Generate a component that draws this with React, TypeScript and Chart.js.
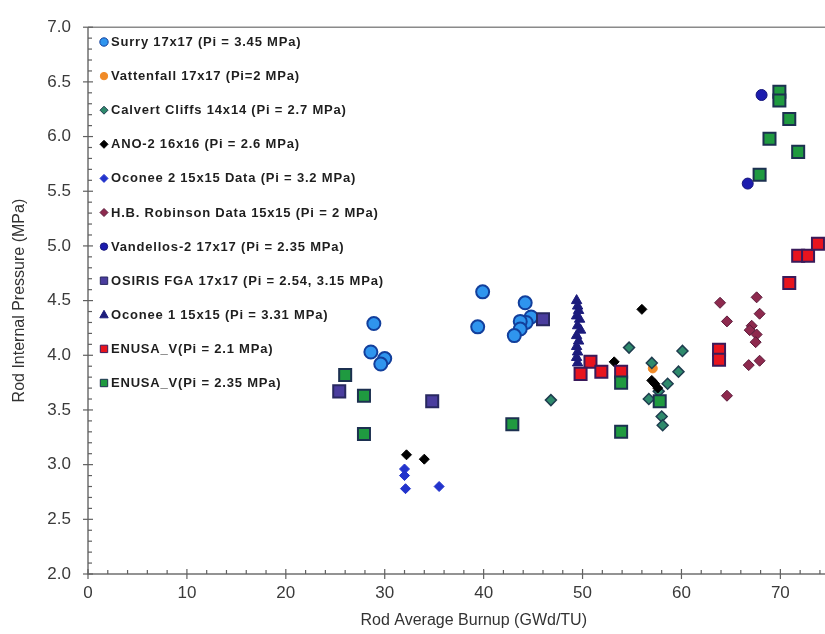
import React, { useEffect, useRef } from "react";
import { Chart, registerables } from "chart.js";

Chart.register(...registerables);

// ---------- axis ranges / ticks ----------
const X_MIN = 0;
const X_MAX = 78;
const Y_MIN = 2;
const Y_MAX = 7;
const X_STEP = 10;
const Y_STEP = 0.5;
const X_TITLE = "Rod Average Burnup (GWd/TU)";
const Y_TITLE = "Rod Internal Pressure (MPa)";

// ---------- series (x = burnup GWd/TU, y = pressure MPa) ----------
const surry: [number, number][] = [
  [28.9, 4.29], [28.6, 4.03], [30.0, 3.97], [29.6, 3.92],
  [39.9, 4.58], [39.4, 4.26],
  [44.2, 4.48], [44.8, 4.35], [44.3, 4.30], [43.7, 4.31], [43.7, 4.24], [43.1, 4.18],
];
const vattenfall: [number, number][] = [[57.1, 3.88]];
const calvert: [number, number][] = [
  [46.8, 3.59], [54.7, 4.07], [60.1, 4.04], [57.0, 3.93], [59.7, 3.85],
  [58.6, 3.74], [56.7, 3.60], [57.7, 3.67], [58.0, 3.44], [58.1, 3.36],
];
const ano2: [number, number][] = [
  [32.2, 3.09], [34.0, 3.05], [56.0, 4.42], [53.2, 3.94],
  [57.0, 3.77], [57.3, 3.74], [57.6, 3.70],
];
const oconee2: [number, number][] = [
  [32.0, 2.96], [32.0, 2.90], [32.1, 2.78], [35.5, 2.80],
];
const robinson: [number, number][] = [
  [63.9, 4.48], [64.6, 4.31], [67.6, 4.53], [67.9, 4.38], [67.1, 4.27],
  [66.9, 4.23], [67.6, 4.19], [67.5, 4.12], [67.9, 3.95], [66.8, 3.91], [64.6, 3.63],
];
const vandellos: [number, number][] = [[68.1, 6.38], [66.7, 5.57]];
const osiris: [number, number][] = [[25.4, 3.67], [34.8, 3.58], [46.0, 4.33]];
const oconee1: [number, number][] = [
  [49.4, 4.50], [49.5, 4.45], [49.6, 4.41], [49.4, 4.36], [49.7, 4.33],
  [49.5, 4.27], [49.8, 4.23], [49.4, 4.18], [49.6, 4.13], [49.4, 4.08],
  [49.5, 4.03], [49.4, 3.98], [49.5, 3.93],
];
const enusa21: [number, number][] = [
  [50.8, 3.94], [49.8, 3.83], [51.9, 3.85], [53.9, 3.85],
  [63.8, 4.05], [63.8, 3.96], [70.9, 4.66], [71.8, 4.91], [72.8, 4.91], [73.8, 5.02],
];
const enusa235: [number, number][] = [
  [26.0, 3.82], [27.9, 3.63], [27.9, 3.28], [42.9, 3.37], [53.9, 3.75], [53.9, 3.30],
  [57.8, 3.58], [69.9, 6.41], [69.9, 6.33], [70.9, 6.16], [68.9, 5.98], [71.8, 5.86], [67.9, 5.65],
];

const FONT = "'Liberation Sans', Arial, sans-serif";

type Style = {
  label: string;
  data: [number, number][];
  shape: "circle" | "rect" | "rectRot" | "triangle";
  radius: number;
  fill: string;
  stroke: string;
  bw: number;
};

const series: Style[] = [
  { label: "Surry 17x17 (Pi = 3.45 MPa)", data: surry, shape: "circle", radius: 6.5, fill: "#2f95ee", stroke: "#123f9c", bw: 2 },
  { label: "Vattenfall 17x17 (Pi=2 MPa)", data: vattenfall, shape: "circle", radius: 4.5, fill: "#f08a26", stroke: "#f08a26", bw: 1 },
  { label: "Calvert Cliffs 14x14 (Pi = 2.7 MPa)", data: calvert, shape: "rectRot", radius: 5.5, fill: "#2e8a6c", stroke: "#1f3d4f", bw: 1.5 },
  { label: "ANO-2 16x16 (Pi = 2.6 MPa)", data: ano2, shape: "rectRot", radius: 5, fill: "#000000", stroke: "#000000", bw: 1 },
  { label: "Oconee 2 15x15 Data (Pi = 3.2 MPa)", data: oconee2, shape: "rectRot", radius: 5, fill: "#2233cc", stroke: "#2233cc", bw: 1 },
  { label: "H.B. Robinson Data 15x15 (Pi = 2 MPa)", data: robinson, shape: "rectRot", radius: 5.5, fill: "#8e2a4e", stroke: "#5a1a3a", bw: 1 },
  { label: "Vandellos-2 17x17 (Pi = 2.35 MPa)", data: vandellos, shape: "circle", radius: 5.5, fill: "#1c1cae", stroke: "#14147a", bw: 1 },
  { label: "OSIRIS FGA 17x17 (Pi = 2.54, 3.15 MPa)", data: osiris, shape: "rect", radius: 8.5, fill: "#4a3d9e", stroke: "#282860", bw: 2 },
  { label: "Oconee 1 15x15 (Pi = 3.31 MPa)", data: oconee1, shape: "triangle", radius: 6, fill: "#1c1c7c", stroke: "#1c1c7c", bw: 1 },
  { label: "ENUSA_V(Pi = 2.1 MPa)", data: enusa21, shape: "rect", radius: 8.5, fill: "#e8141e", stroke: "#3a1a5a", bw: 2 },
  { label: "ENUSA_V(Pi = 2.35 MPa)", data: enusa235, shape: "rect", radius: 8.5, fill: "#1f9a40", stroke: "#1c3050", bw: 2 },
];

function drawMarker(ctx: CanvasRenderingContext2D, s: Style, x: number, y: number) {
  ctx.save();
  ctx.fillStyle = s.fill;
  ctx.strokeStyle = s.stroke;
  ctx.lineWidth = 1;
  ctx.beginPath();
  if (s.shape === "circle") {
    const r = s.label.startsWith("Surry") ? 4.2 : 3.7;
    ctx.arc(x, y, r, 0, Math.PI * 2);
  } else if (s.shape === "rect") {
    ctx.rect(x - 3.7, y - 3.7, 7.4, 7.4);
  } else if (s.shape === "rectRot") {
    const r = 4;
    ctx.moveTo(x, y - r);
    ctx.lineTo(x + r, y);
    ctx.lineTo(x, y + r);
    ctx.lineTo(x - r, y);
    ctx.closePath();
  } else {
    ctx.moveTo(x, y - 4.5);
    ctx.lineTo(x + 4.2, y + 3);
    ctx.lineTo(x - 4.2, y + 3);
    ctx.closePath();
  }
  ctx.fill();
  ctx.stroke();
  ctx.restore();
}

const decorPlugin = {
  id: "decor",
  beforeDatasetsDraw(chart: any) {
    const ctx: CanvasRenderingContext2D = chart.ctx;
    const { left, right, top, bottom } = chart.chartArea;
    const xs = chart.scales.x;
    const ys = chart.scales.y;
    ctx.save();
    ctx.strokeStyle = "#707070";
    ctx.lineWidth = 1.5;
    // axes + top frame
    ctx.beginPath();
    ctx.moveTo(left, top);
    ctx.lineTo(left, bottom);
    ctx.lineTo(right, bottom);
    ctx.stroke();
    ctx.beginPath();
    ctx.strokeStyle = "#8a8a8a";
    ctx.moveTo(left, top);
    ctx.lineTo(right, top);
    ctx.stroke();
    ctx.strokeStyle = "#606060";
    ctx.lineWidth = 1.2;
    // x ticks (minor every 2)
    for (let i = 0; i * 2 <= X_MAX; i++) {
      const v = i * 2;
      const px = xs.getPixelForValue(v);
      ctx.beginPath();
      if (v % X_STEP === 0) {
        ctx.moveTo(px, bottom - 5);
        ctx.lineTo(px, bottom + 5);
      } else {
        ctx.moveTo(px, bottom - 4);
        ctx.lineTo(px, bottom);
      }
      ctx.stroke();
    }
    // y ticks (minor every 0.1)
    const n = Math.round((Y_MAX - Y_MIN) / 0.1);
    for (let i = 0; i <= n; i++) {
      const v = Y_MIN + i * 0.1;
      const py = ys.getPixelForValue(v);
      ctx.beginPath();
      if (i % 5 === 0) {
        ctx.moveTo(left - 5, py);
        ctx.lineTo(left + 5, py);
      } else {
        ctx.moveTo(left, py);
        ctx.lineTo(left + 4, py);
      }
      ctx.stroke();
    }
    ctx.restore();
  },
  afterDatasetsDraw(chart: any) {
    const ctx: CanvasRenderingContext2D = chart.ctx;
    ctx.save();
    ctx.font = `bold 13px ${FONT}`;
    (ctx as any).letterSpacing = "0.8px";
    ctx.fillStyle = "#1e1e1e";
    ctx.textBaseline = "middle";
    ctx.textAlign = "left";
    series.forEach((s, i) => {
      const y = 42 + i * 34.1;
      drawMarker(ctx, s, 104, y);
      ctx.fillText(s.label, 111, y + 0.5);
    });
    ctx.restore();
  },
};

export default function App() {
  const ref = useRef<HTMLCanvasElement | null>(null);

  useEffect(() => {
    document.documentElement.style.overflow = "hidden";
    document.body.style.overflow = "hidden";
    const canvas = ref.current;
    if (!canvas) return;
    const chart = new Chart(canvas, {
      type: "scatter",
      data: {
        datasets: series.map((s, i) => ({
          label: s.label,
          data: s.data.map(([x, y]) => ({ x, y })),
          pointStyle: s.shape,
          pointRadius: s.radius,
          pointHoverRadius: s.radius,
          backgroundColor: s.fill,
          borderColor: s.stroke,
          pointBorderWidth: s.bw,
          borderWidth: s.bw,
          showLine: false,
          order: -i,
        })),
      },
      options: {
        animation: false,
        responsive: false,
        devicePixelRatio: 1,
        events: [],
        layout: { padding: { top: 19, right: 6, left: 0, bottom: 0 } },
        plugins: {
          legend: { display: false },
          tooltip: { enabled: false },
          title: { display: false },
        },
        scales: {
          x: {
            type: "linear",
            min: X_MIN,
            max: X_MAX,
            grid: { display: false, drawTicks: false },
            border: { display: false },
            ticks: {
              stepSize: X_STEP,
              padding: 9,
              color: "#3a3a3a",
              font: { family: FONT, size: 17 },
              callback: (v: any) => (Number(v) % X_STEP === 0 ? String(v) : ""),
            },
            title: {
              display: true,
              text: X_TITLE,
              color: "#333333",
              font: { family: FONT, size: 16 },
              padding: { top: 4, bottom: 4 },
            },
            afterFit: (scale: any) => {
              scale.height = 60;
            },
          },
          y: {
            type: "linear",
            min: Y_MIN,
            max: Y_MAX,
            grid: { display: false, drawTicks: false },
            border: { display: false },
            ticks: {
              stepSize: Y_STEP,
              padding: 17,
              color: "#3a3a3a",
              font: { family: FONT, size: 17 },
              callback: (v: any) => Number(v).toFixed(1),
            },
            title: {
              display: true,
              text: Y_TITLE,
              color: "#333333",
              font: { family: FONT, size: 16 },
              padding: { top: 10, bottom: 0 },
            },
            afterFit: (scale: any) => {
              scale.width = 88;
            },
          },
        },
      },
      plugins: [decorPlugin],
    } as any);
    return () => chart.destroy();
  }, []);

  return (
    <div
      style={{
        position: "fixed",
        left: 0,
        top: 0,
        width: 870,
        height: 634,
        background: "#ffffff",
      }}
    >
      <canvas ref={ref} width={870} height={634} style={{ display: "block" }} />
    </div>
  );
}
